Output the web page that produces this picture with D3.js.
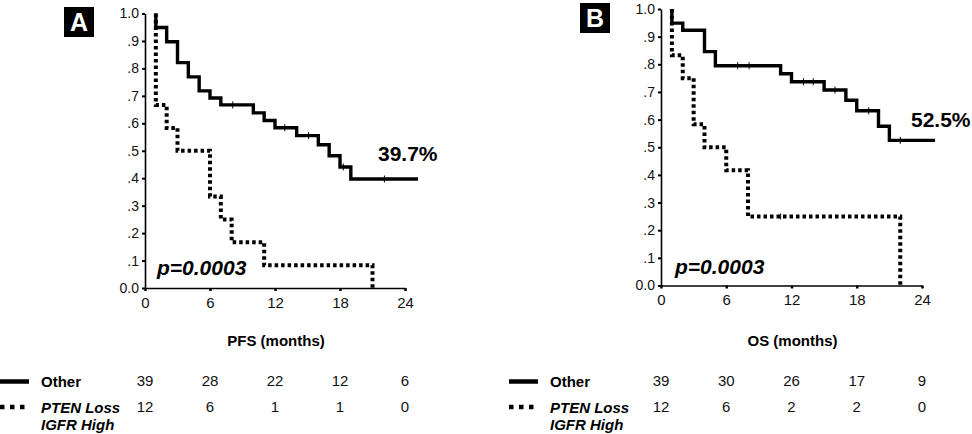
<!DOCTYPE html>
<html>
<head>
<meta charset="utf-8">
<script src="https://cdn.jsdelivr.net/npm/d3@7"></script>
<style>
  html, body { margin: 0; padding: 0; background: #fff; }
  svg { display: block; font-family: "Liberation Sans", Arial, sans-serif; }
</style>
</head>
<body>
<svg id="chart" width="972" height="434"></svg>
<script>
// ---------- data ----------
const xTicks = [0, 6, 12, 18, 24];
const yTicks = [0, 0.1, 0.2, 0.3, 0.4, 0.5, 0.6, 0.7, 0.8, 0.9, 1.0];
const yTickLabels = ["0.0", ".1", ".2", ".3", ".4", ".5", ".6", ".7", ".8", ".9", "1.0"];
const groupNames = ["Other", "PTEN Loss", "IGFR High"];

// Panel A – PFS
const pfsOtherTimes = [1, 2, 3, 4, 5, 6, 7, 10, 11, 12, 14, 16, 17, 18, 19];
const pfsOtherSurv  = [0.949, 0.897, 0.821, 0.769, 0.718, 0.692, 0.667, 0.638, 0.610, 0.584, 0.555, 0.522, 0.482, 0.441, 0.397];
const pfsOtherEnd = 25.2;
const pfsOtherCensor = [8.1, 12.9, 15.1, 18.3, 22.1];
const pfsPtenTimes = [1, 2, 3, 6, 7, 8, 11, 21];
const pfsPtenSurv  = [0.667, 0.583, 0.5, 0.333, 0.25, 0.167, 0.083, 0];
const pfsPtenCensor = [];
const pfsAtRiskOther = [39, 28, 22, 12, 6];
const pfsAtRiskPten  = [12, 6, 1, 1, 0];

// Panel B – OS
const osOtherTimes = [1, 2, 4, 5, 11, 12, 15, 17, 18, 20, 21];
const osOtherSurv  = [0.949, 0.923, 0.846, 0.795, 0.766, 0.737, 0.707, 0.670, 0.632, 0.576, 0.525];
const osOtherEnd = 25.2;
const osOtherCensor = [7.05, 8.1, 13.1, 14.0, 16.0, 19.1, 22.0];
const osPtenTimes = [1, 2, 3, 4, 6, 8, 22];
const osPtenSurv  = [0.833, 0.75, 0.583, 0.5, 0.417, 0.25, 0];
const osPtenCensor = [11.0];
const osAtRiskOther = [39, 30, 26, 17, 9];
const osAtRiskPten  = [12, 6, 2, 2, 0];

// ---------- drawing ----------
const svg = d3.select("#chart");
const FONT = '"Liberation Sans", Arial, sans-serif';

function kmPoints(times, surv, end) {
  const pts = [[times[0], 1.0]];
  times.forEach((t, i) => pts.push([t, surv[i]]));
  if (end !== undefined) pts.push([end, surv[surv.length - 1]]);
  return pts;
}
function survAt(times, surv, t) {
  const i = d3.bisectRight(times, t);
  return i === 0 ? 1 : surv[i - 1];
}

function drawPanel(cfg) {
  const g = svg.append("g");
  const x = d3.scaleLinear().domain([0, 24]).range(cfg.xRange);
  const y = d3.scaleLinear().domain([0, 1]).range(cfg.yRange);

  // y axis
  const yAxis = d3.axisLeft(y).tickValues(yTicks)
    .tickFormat((d, i) => yTickLabels[i]).tickSize(3).tickPadding(3).tickSizeOuter(0);
  const ya = g.append("g").attr("transform", `translate(${cfg.xRange[0]},0)`).call(yAxis);
  ya.select(".domain").attr("stroke-width", 1.6);
  ya.selectAll(".tick line").attr("stroke-width", 2);
  ya.selectAll("text").attr("font-size", 14).attr("font-family", FONT).attr("fill", "#111");

  // x axis
  const xAxis = d3.axisBottom(x).tickValues(xTicks).tickSize(3).tickPadding(6).tickSizeOuter(0);
  const xa = g.append("g").attr("transform", `translate(0,${cfg.yRange[0]})`).call(xAxis);
  xa.select(".domain").attr("stroke-width", 1.6);
  xa.selectAll(".tick line").attr("stroke-width", 2.5);
  xa.selectAll("text").attr("font-size", 15).attr("font-family", FONT).attr("fill", "#111");

  const line = d3.line().x(d => x(d[0])).y(d => y(d[1])).curve(d3.curveStepAfter);

  // dotted group
  g.append("path").datum(kmPoints(cfg.ptenTimes, cfg.ptenSurv))
    .attr("d", line).attr("fill", "none").attr("stroke", "#000")
    .attr("stroke-width", 4).attr("stroke-dasharray", "3.5,3");
  cfg.ptenCensor.forEach(t => {
    const s = survAt(cfg.ptenTimes, cfg.ptenSurv, t);
    g.append("line").attr("x1", x(t)).attr("x2", x(t))
      .attr("y1", y(s) - 3).attr("y2", y(s) + 3).attr("stroke", "#000").attr("stroke-width", 1);
  });

  // solid group
  g.append("path").datum(kmPoints(cfg.otherTimes, cfg.otherSurv, cfg.otherEnd))
    .attr("d", line).attr("fill", "none").attr("stroke", "#000")
    .attr("stroke-width", 3.4).attr("stroke-linejoin", "miter");
  cfg.otherCensor.forEach(t => {
    const s = survAt(cfg.otherTimes, cfg.otherSurv, t);
    g.append("line").attr("x1", x(t)).attr("x2", x(t))
      .attr("y1", y(s) - 3.5).attr("y2", y(s) + 3.5).attr("stroke", "#000").attr("stroke-width", 1);
  });

  // annotations
  g.append("text").attr("x", cfg.pctPos[0]).attr("y", cfg.pctPos[1])
    .attr("font-size", 21).attr("font-weight", "bold").attr("font-family", FONT)
    .text(cfg.pct);
  g.append("text").attr("x", cfg.pPos[0]).attr("y", cfg.pPos[1])
    .attr("font-size", 21).attr("font-weight", "bold").attr("font-style", "italic")
    .attr("font-family", FONT).text("p=0.0003");

  // panel letter
  g.append("rect").attr("x", cfg.box[0]).attr("y", cfg.box[1]).attr("width", 30).attr("height", 30).attr("fill", "#000");
  g.append("text").attr("x", cfg.box[0] + 15).attr("y", cfg.box[1] + 24)
    .attr("text-anchor", "middle").attr("font-size", 25).attr("font-weight", "bold")
    .attr("font-family", FONT).attr("fill", "#fff").text(cfg.letter);

  // axis title
  g.append("text").attr("x", (cfg.xRange[0] + cfg.xRange[1]) / 2 + 1).attr("y", 346)
    .attr("text-anchor", "middle").attr("font-size", 15).attr("font-weight", "bold")
    .attr("font-family", FONT).text(cfg.title);

  // legend + numbers at risk
  const lx = cfg.legendX;
  g.append("line").attr("x1", lx).attr("x2", lx + 29).attr("y1", 381.5).attr("y2", 381.5)
    .attr("stroke", "#000").attr("stroke-width", 4.5);
  g.append("line").attr("x1", lx).attr("x2", lx + 25).attr("y1", 407).attr("y2", 407)
    .attr("stroke", "#000").attr("stroke-width", 4.5).attr("stroke-dasharray", "4.5,5.5");
  g.append("text").attr("x", lx + 41).attr("y", 387).attr("font-size", 15).attr("font-weight", "bold")
    .attr("font-family", FONT).text(groupNames[0]);
  g.append("text").attr("x", lx + 41).attr("y", 413).attr("font-size", 15).attr("font-weight", "bold")
    .attr("font-style", "italic").attr("font-family", FONT).text(groupNames[1]);
  g.append("text").attr("x", lx + 41).attr("y", 430).attr("font-size", 15).attr("font-weight", "bold")
    .attr("font-style", "italic").attr("font-family", FONT).text(groupNames[2]);

  xTicks.forEach((t, i) => {
    g.append("text").attr("x", x(t)).attr("y", 385.5).attr("text-anchor", "middle")
      .attr("font-size", 15).attr("font-family", FONT).attr("fill", "#111").text(cfg.riskOther[i]);
    g.append("text").attr("x", x(t)).attr("y", 412).attr("text-anchor", "middle")
      .attr("font-size", 15).attr("font-family", FONT).attr("fill", "#111").text(cfg.riskPten[i]);
  });
}

drawPanel({
  letter: "A", box: [64, 7], title: "PFS (months)",
  xRange: [145, 405], yRange: [288, 13.5],
  otherTimes: pfsOtherTimes, otherSurv: pfsOtherSurv, otherEnd: pfsOtherEnd, otherCensor: pfsOtherCensor,
  ptenTimes: pfsPtenTimes, ptenSurv: pfsPtenSurv, ptenCensor: pfsPtenCensor,
  riskOther: pfsAtRiskOther, riskPten: pfsAtRiskPten,
  pct: "39.7%", pctPos: [378, 161], pPos: [157, 275],
  legendX: 0
});

drawPanel({
  letter: "B", box: [580, 3], title: "OS (months)",
  xRange: [661, 922], yRange: [285.5, 9],
  otherTimes: osOtherTimes, otherSurv: osOtherSurv, otherEnd: osOtherEnd, otherCensor: osOtherCensor,
  ptenTimes: osPtenTimes, ptenSurv: osPtenSurv, ptenCensor: osPtenCensor,
  riskOther: osAtRiskOther, riskPten: osAtRiskPten,
  pct: "52.5%", pctPos: [911, 127], pPos: [675, 274],
  legendX: 509
});
</script>
</body>
</html>
